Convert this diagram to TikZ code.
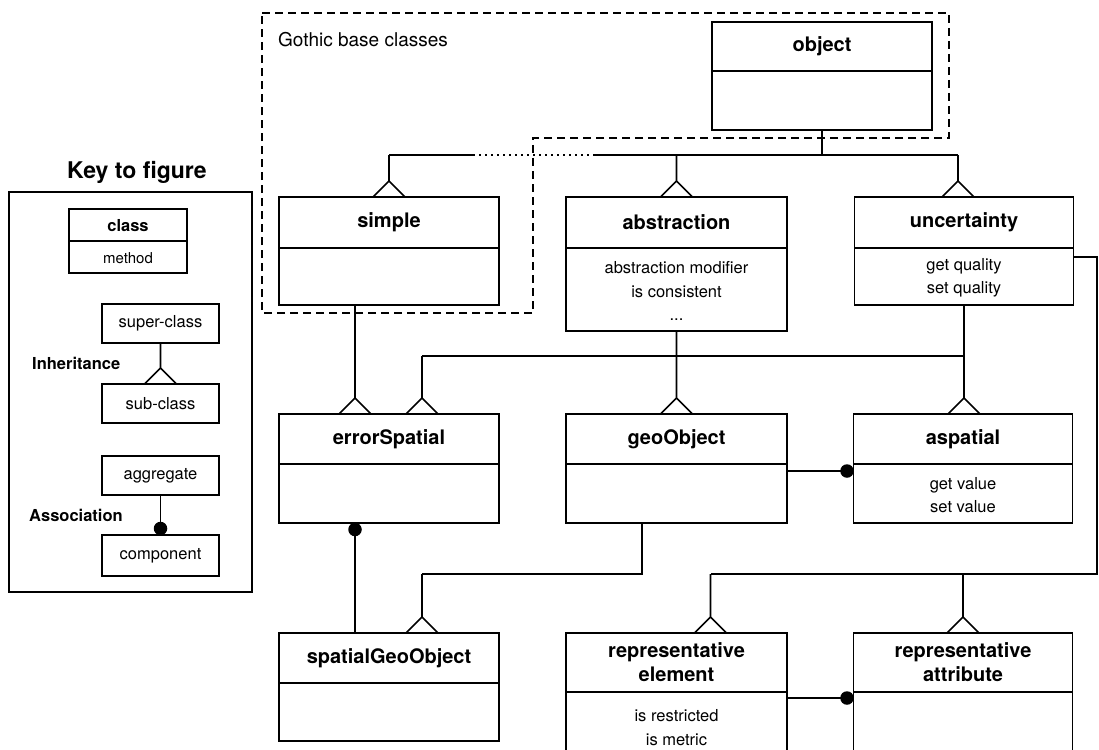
\documentclass[tikz,border=0pt]{standalone}
\usepackage{fontspec}
\setmainfont{TeX Gyre Heros}
\usetikzlibrary{calc}

% class box: outer frame node, divider line, name and operations
\newcommand\umlclass[8]{%
  \node[classbox, minimum width=#3, minimum height={#6-#4}] (#1) at (#2,{(#4+#6)/2}) {};
  \draw[conn] (#1.west |- 0,#5) -- (#1.east |- 0,#5);
  \node[classname] (#1-name) at (#2,{(#4+#5)/2}) {#7};
  \node[methods] (#1-ops) at (#2,{(#5+#6)/2+1.5}) {#8};
}
% inheritance: line from #1 down to an open triangle resting on #2
\newcommand\isa[2]{%
  \draw[conn] (#1) -- ($(#1 |- #2.north)+(0,-16)$) coordinate (apex)
    -- ++(-16,16) (apex) -- ++(16,16);
}

\begin{document}
\begin{tikzpicture}[x=1pt, y=-1pt,
  classbox/.style={draw, rectangle, line width=1.7pt, inner sep=0pt, outer sep=0pt},
  classname/.style={font=\fontsize{20}{24}\selectfont\bfseries, align=center, inner sep=0pt},
  methods/.style={font=\fontsize{16.5}{23.5}\selectfont, align=center, inner sep=0pt},
  keyname/.style={font=\fontsize{16.5}{20}\selectfont\bfseries, inner sep=0pt},
  keytext/.style={font=\fontsize{16.5}{20}\selectfont, inner sep=0pt},
  keylabel/.style={font=\fontsize{16.5}{20}\selectfont\bfseries, anchor=west, inner sep=0pt},
  conn/.style={line width=1.6pt},
  gothic/.style={line width=1.5pt, dash pattern=on 8pt off 5pt},
  crossing/.style={line width=1.6pt, dash pattern=on 1.6pt off 4.4pt},
  assoc/.style={circle, fill, inner sep=0pt, minimum size=13.5pt}]

\useasboundingbox (0,0) rectangle (1099,749);
\fill[white] (0,0) rectangle (1099,749);
\clip (0,0) rectangle (1099,749);

% ---------- key ----------
\node[font=\fontsize{23}{28}\selectfont\bfseries, inner sep=0pt] (keytitle) at (137,172) {Key to figure};
\node[draw, rectangle, line width=1.8pt, minimum width=243, minimum height=400, inner sep=0pt] (keybox) at (130.5,392) {};

\node[classbox, minimum width=118, minimum height=64] (keyclass) at (128,241) {};
\draw[conn] (keyclass.west) -- (keyclass.east);
\node[keyname] (keyclass-name) at (128,226) {class};
\node[keytext, font=\fontsize{15}{18}\selectfont] (keyclass-ops) at (128,258) {method};

\node[classbox, minimum width=117, minimum height=39, keytext] (super) at (160.5,323.5) {super-class};
\node[classbox, minimum width=117, minimum height=39, keytext] (sub) at (160.5,403.5) {sub-class};
\node[keylabel] (inhlabel) at (32,363) {Inheritance};
\isa{super.south}{sub}

\node[classbox, minimum width=117, minimum height=39, keytext] (aggregate) at (160.5,475.5) {aggregate};
\node[classbox, minimum width=117, minimum height=41, keytext] (component) at (160.5,555.5) {component};
\node[keylabel] (asslabel) at (29,515) {Association};
\draw[conn] (aggregate.south) -- (component.north);
\node[assoc] (keydot) at ($(component.north)+(0,-6.5)$) {};

% ---------- Gothic base classes region ----------
\draw[gothic] (262,13) -- (949,13) -- (949,138) -- (533,138) -- (533,313) -- (262,313) -- cycle;
\node[font=\fontsize{19}{23}\selectfont, anchor=west, inner sep=0pt] (gothiclabel) at (278,40) {Gothic base classes};

% ---------- classes ----------
\umlclass{object}{822}{220}{22}{71}{130}{object}{}
\umlclass{simple}{389}{220}{197}{248}{305}{simple}{}
\umlclass{abstraction}{676.5}{221}{197}{248}{331}{abstraction}{abstraction modifier\\is consistent\\...}
\umlclass{uncertainty}{964}{219}{197}{248}{305}{uncertainty}{get quality\\set quality}
\umlclass{errorSpatial}{389}{220}{414}{464}{523}{errorSpatial}{}
\umlclass{geoObject}{676.5}{221}{414}{464}{523}{geoObject}{}
\umlclass{aspatial}{963}{219}{414}{464}{523}{aspatial}{get value\\set value}
\umlclass{spatialGeoObject}{389}{220}{633}{683}{741}{spatialGeoObject}{}
\umlclass{reprElement}{676.5}{221}{633}{692}{760}{representative\\element}{is restricted\\is metric}
\umlclass{reprAttribute}{963}{219}{633}{692}{760}{representative\\attribute}{}

% ---------- inheritance from object ----------
\coordinate (objOut) at (object.south |- 0,155);
\coordinate (busL) at (simple.north |- 0,155);
\coordinate (busM) at (abstraction.north |- 0,155);
\coordinate (busR) at ($(uncertainty.north |- 0,155)+(-6,0)$);
\coordinate (dotA) at (473,155);
\coordinate (dotB) at (593,155);
\draw[conn] (object.south) -- (objOut);
\draw[conn] (busL) -- (dotA);
\draw[crossing] (dotA) -- (dotB);
\draw[conn] (dotB) -- (busR);
\isa{busL}{simple}
\isa{busM}{abstraction}
\isa{busR}{uncertainty}

% ---------- second level ----------
\coordinate (simpleOut) at ($(simple.south)+(-34,0)$);
\isa{simpleOut}{errorSpatial}
\isa{abstraction.south}{geoObject}
\isa{uncertainty.south}{aspatial}
\coordinate (bus2R) at (uncertainty.south |- 0,356);
\coordinate (bus2L) at ($(errorSpatial.north |- 0,356)+(33,0)$);
\draw[conn] (bus2R) -- (bus2L);
\isa{bus2L}{errorSpatial}

% geoObject -- aspatial association
\coordinate (goRight) at (geoObject.east |- 0,471);
\draw[conn] (goRight) -- (goRight -| aspatial.west);
\node[assoc] (dotAsp) at ($(goRight -| aspatial.west)+(-6.5,0)$) {};

% errorSpatial -- spatialGeoObject association
\coordinate (esOut) at ($(errorSpatial.south)+(-34,0)$);
\draw[conn] (esOut) -- (esOut |- spatialGeoObject.north);
\node[assoc] (dotEs) at ($(esOut)+(0,6.5)$) {};

% geoObject -> spatialGeoObject
\coordinate (goOut) at ($(geoObject.south)+(-34.5,0)$);
\coordinate (sgBus) at ($(spatialGeoObject.north |- 0,574)+(33,0)$);
\draw[conn] (goOut) -- (goOut |- 0,574) -- (sgBus);
\isa{sgBus}{spatialGeoObject}

% uncertainty -> representative element / attribute
\coordinate (uncR) at (uncertainty.east |- 0,257);
\coordinate (loopTR) at (1097,257);
\coordinate (loopBR) at (1097,574);
\coordinate (reBus) at ($(reprElement.north |- 0,574)+(34,0)$);
\coordinate (raBus) at (reprAttribute.north |- 0,574);
\draw[conn] (uncR) -- (loopTR) -- (loopBR) -- (reBus);
\isa{reBus}{reprElement}
\isa{raBus}{reprAttribute}

% representative element -- representative attribute association
\coordinate (reRight) at (reprElement.east |- 0,698);
\draw[conn] (reRight) -- (reRight -| reprAttribute.west);
\node[assoc] (dotRa) at ($(reRight -| reprAttribute.west)+(-6.5,0)$) {};

\end{tikzpicture}
\end{document}
